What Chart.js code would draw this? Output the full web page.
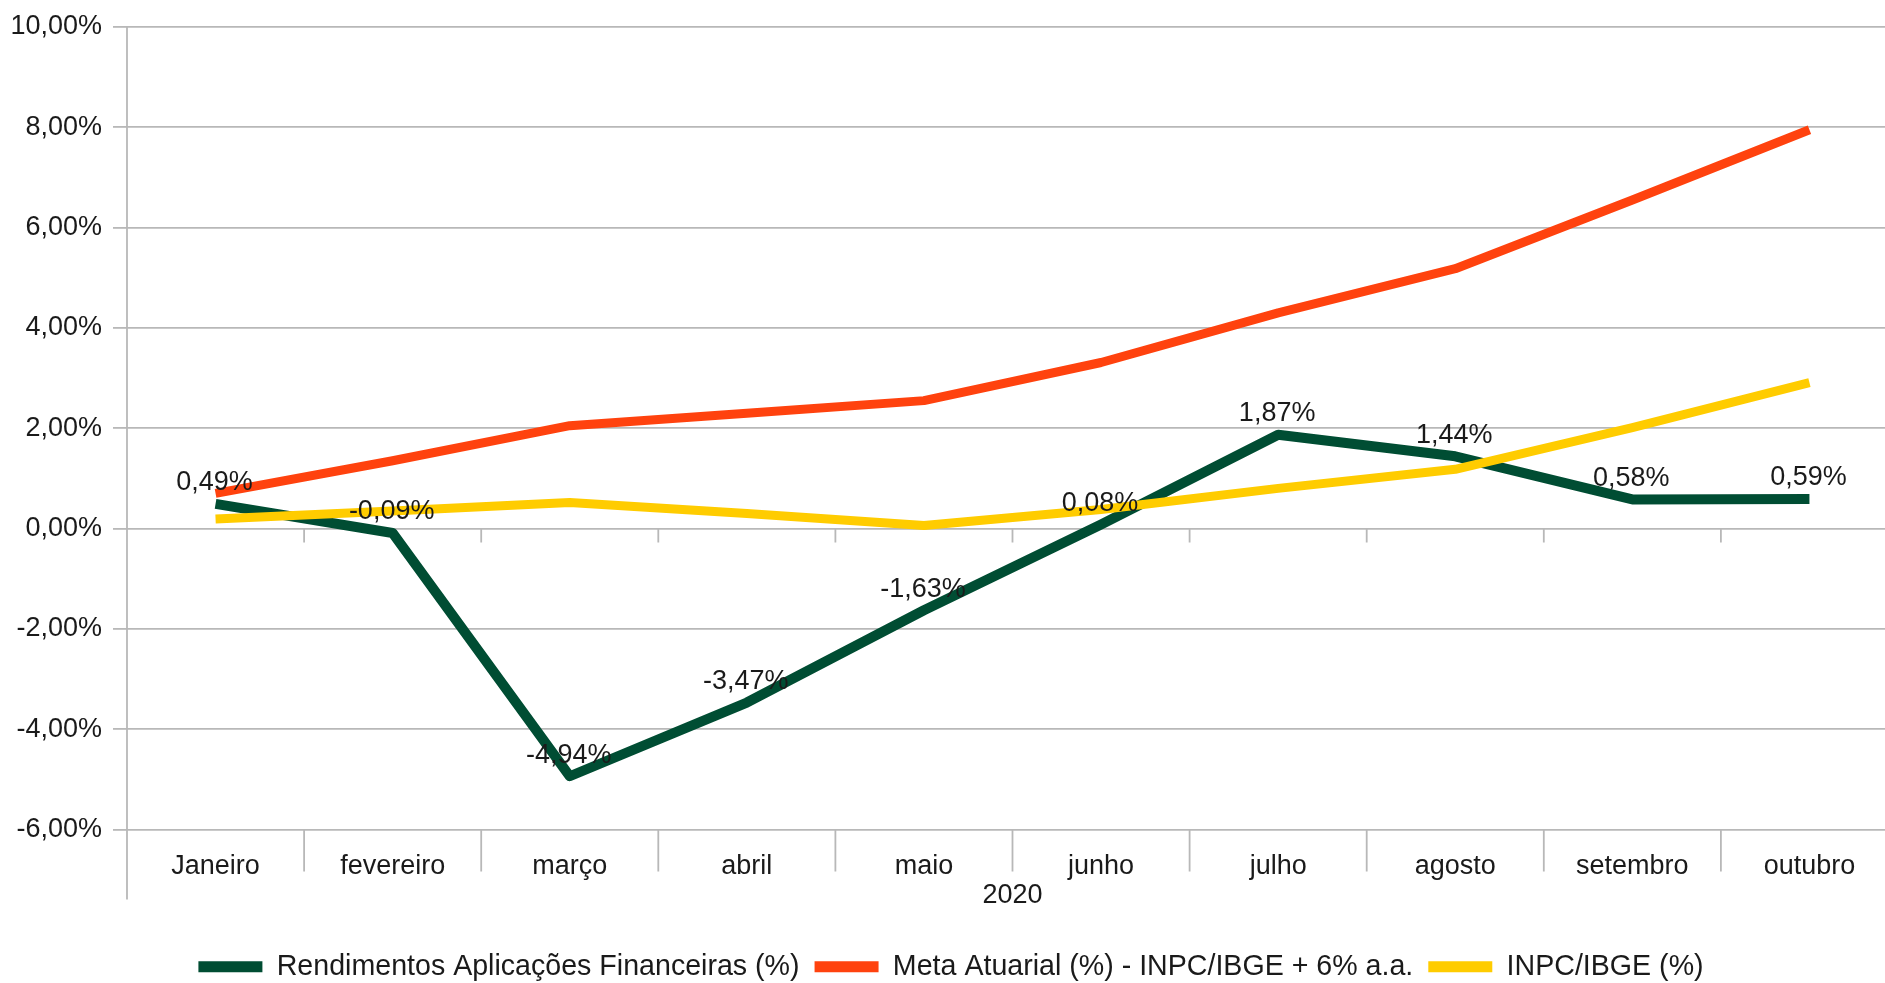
<!DOCTYPE html>
<html>
<head>
<meta charset="utf-8">
<script src="https://cdn.jsdelivr.net/npm/chart.js@4.4.0/dist/chart.umd.min.js"></script>
<style>
html,body{margin:0;padding:0;background:#fff;overflow:hidden;width:1885px;height:983px}
canvas{position:absolute;left:0;top:0}
</style>
</head>
<body>
<canvas id="c" width="1905" height="995" style="width:1905px;height:995px"></canvas>
<script>
const categories = ['Janeiro','fevereiro','março','abril','maio','junho','julho','agosto','setembro','outubro'];
const groupLabel = '2020';
const seriesNames = ['Rendimentos Aplicações Financeiras (%)','Meta Atuarial (%) - INPC/IBGE + 6% a.a.','INPC/IBGE (%)'];
const rendimentos = [0.49,-0.09,-4.94,-3.47,-1.63,0.08,1.87,1.44,0.58,0.59];
const metaAtuarial = [0.70,1.35,2.05,2.30,2.55,3.31,4.30,5.18,6.55,7.95];
const inpc = [0.19,0.35,0.52,0.30,0.06,0.38,0.80,1.18,2.01,2.91];
const yMin = -6, yMax = 10, yStep = 2;

const colors = ['#004d33','#ff420e','#ffcc00'];
const widths = [10, 9, 9];
const GRID = '#b8b8b8';
const TEXT = '#1a1a1a';
const FAMILY = '"Liberation Sans", Arial, Helvetica, sans-serif';
const fmt = v => Number(v).toFixed(2).replace('.', ',') + '%';

const axisDecor = {
  id: 'axisDecor',
  beforeDatasetsDraw(chart) {
    const {ctx, chartArea: a, scales: {x, y}} = chart;
    const n = categories.length;
    const y0 = y.getPixelForValue(0);
    ctx.save();
    ctx.strokeStyle = GRID;
    ctx.lineWidth = 1.8;
    ctx.beginPath();
    ctx.moveTo(a.left, a.top);
    ctx.lineTo(a.left, a.bottom + 70);
    for (let k = 1; k <= n; k++) {
      const px = x.getPixelForValue(k - 0.5);
      ctx.moveTo(px, y0); ctx.lineTo(px, y0 + 14);
      ctx.moveTo(px, a.bottom); ctx.lineTo(px, a.bottom + 42);
    }
    ctx.stroke();
    ctx.restore();
  }
};

const valueLabels = {
  id: 'valueLabels',
  afterDatasetsDraw(chart) {
    const meta = chart.getDatasetMeta(0);
    const ctx = chart.ctx;
    ctx.save();
    ctx.font = '27px ' + FAMILY;
    ctx.fillStyle = TEXT;
    ctx.textAlign = 'center';
    ctx.textBaseline = 'middle';
    meta.data.forEach((pt, i) => {
      ctx.fillText(fmt(rendimentos[i]), pt.x - 1, pt.y - 21);
    });
    ctx.restore();
  }
};

const mk = (i, data, order) => ({
  label: seriesNames[i], data, borderColor: colors[i], backgroundColor: colors[i],
  borderWidth: widths[i], pointRadius: 0, pointHoverRadius: 0, tension: 0, fill: false,
  borderJoinStyle: 'round', borderCapStyle: 'butt', order
});

new Chart(document.getElementById('c'), {
  type: 'line',
  data: {
    labels: categories,
    datasets: [mk(0, rendimentos, 2), mk(1, metaAtuarial, 1), mk(2, inpc, 0)]
  },
  options: {
    responsive: false,
    animation: false,
    devicePixelRatio: 1,
    layout: {padding: {left: 4, right: 7, top: 27, bottom: 4}},
    plugins: {
      tooltip: {enabled: false},
      legend: {
        position: 'bottom',
        labels: {
          boxWidth: 64, boxHeight: 11, padding: 15, color: TEXT,
          font: {family: FAMILY, size: 28.6},
          sort: (a, b) => a.datasetIndex - b.datasetIndex,
          generateLabels(chart) {
            return Chart.defaults.plugins.legend.labels.generateLabels(chart).map(l =>
              Object.assign({}, l, {lineWidth: 0, fillStyle: colors[l.datasetIndex], strokeStyle: colors[l.datasetIndex]}));
          }
        }
      }
    },
    scales: {
      x: {
        offset: true,
        grid: {display: false, drawTicks: false},
        border: {display: false},
        ticks: {padding: 21, color: TEXT, font: {family: FAMILY, size: 27}, maxRotation: 0, autoSkip: false},
        title: {display: true, text: groupLabel, color: TEXT, font: {family: FAMILY, size: 27}, padding: {top: 0, bottom: 26}},
        afterFit(s) { s.height = 108; }
      },
      y: {
        min: yMin, max: yMax,
        ticks: {stepSize: yStep, padding: 11, color: TEXT, font: {family: FAMILY, size: 27, lineHeight: 0.9}, callback: v => fmt(v)},
        grid: {color: GRID, lineWidth: 1.8, tickLength: 14, drawTicks: true},
        border: {display: false},
        afterFit(s) { s.width = 123; }
      }
    }
  },
  plugins: [axisDecor, valueLabels]
});
</script>
</body>
</html>
